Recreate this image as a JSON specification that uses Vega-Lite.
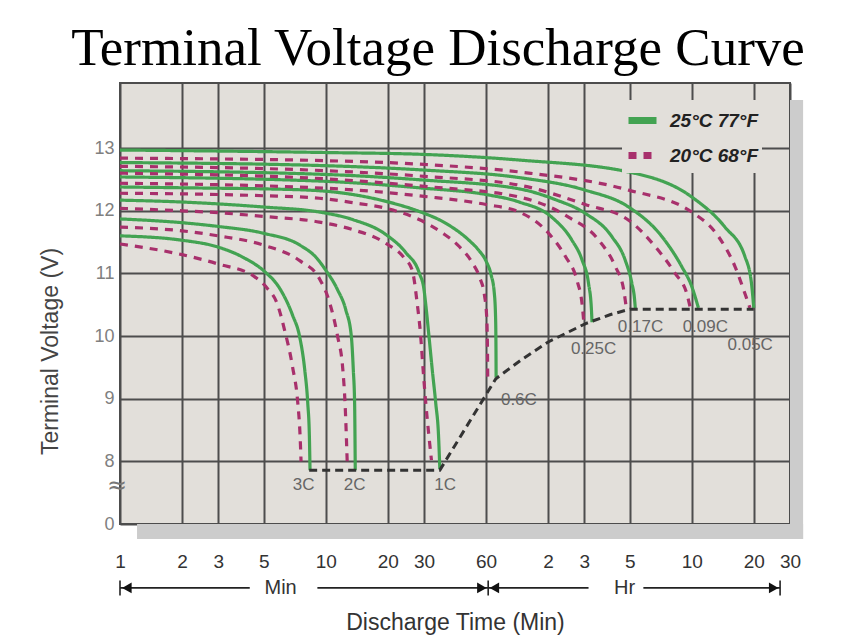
{
  "$schema": "https://vega.github.io/schema/vega-lite/v6.json",
  "width": 670,
  "height": 441,
  "autosize": "none",
  "padding": {"left": 120, "top": 83, "right": 74, "bottom": 117},
  "background": "white",
  "config": {
    "view": {"fill": "#e2dfda", "stroke": "#4d4d4d", "strokeWidth": 2},
    "font": "Liberation Sans"
  },
  "title": {
    "text": "Terminal Voltage Discharge Curve",
    "font": "Liberation Serif",
    "fontSize": 53,
    "fontWeight": "normal",
    "color": "#000000",
    "anchor": "middle",
    "dx": -17,
    "offset": 7
  },
  "datasets": {
    "shadow": [
      {"t": 1800, "t2": 2084, "v": 13.77, "v2": 6.76},
      {"t": 1.21, "t2": 2084, "v": 7, "v2": 6.76}
    ],
    "curves": [
      {"r": "3C", "temp": "25°C 77°F", "t": 1, "v": 11.6},
      {"r": "3C", "temp": "25°C 77°F", "t": 2, "v": 11.53},
      {"r": "3C", "temp": "25°C 77°F", "t": 3, "v": 11.42},
      {"r": "3C", "temp": "25°C 77°F", "t": 4, "v": 11.25},
      {"r": "3C", "temp": "25°C 77°F", "t": 5, "v": 11.04},
      {"r": "3C", "temp": "25°C 77°F", "t": 6, "v": 10.75},
      {"r": "3C", "temp": "25°C 77°F", "t": 6.9, "v": 10.33},
      {"r": "3C", "temp": "25°C 77°F", "t": 7.45, "v": 10.0},
      {"r": "3C", "temp": "25°C 77°F", "t": 7.9, "v": 9.46},
      {"r": "3C", "temp": "25°C 77°F", "t": 8.17, "v": 8.93},
      {"r": "3C", "temp": "25°C 77°F", "t": 8.32, "v": 8.4},
      {"r": "3C", "temp": "25°C 77°F", "t": 8.38, "v": 7.86},

      {"r": "2C", "temp": "25°C 77°F", "t": 1, "v": 11.87},
      {"r": "2C", "temp": "25°C 77°F", "t": 2, "v": 11.81},
      {"r": "2C", "temp": "25°C 77°F", "t": 3, "v": 11.75},
      {"r": "2C", "temp": "25°C 77°F", "t": 5, "v": 11.64},
      {"r": "2C", "temp": "25°C 77°F", "t": 7.5, "v": 11.45},
      {"r": "2C", "temp": "25°C 77°F", "t": 9, "v": 11.25},
      {"r": "2C", "temp": "25°C 77°F", "t": 10, "v": 11.05},
      {"r": "2C", "temp": "25°C 77°F", "t": 11.4, "v": 10.74},
      {"r": "2C", "temp": "25°C 77°F", "t": 12.5, "v": 10.42},
      {"r": "2C", "temp": "25°C 77°F", "t": 13.3, "v": 10.0},
      {"r": "2C", "temp": "25°C 77°F", "t": 13.6, "v": 9.46},
      {"r": "2C", "temp": "25°C 77°F", "t": 13.8, "v": 8.93},
      {"r": "2C", "temp": "25°C 77°F", "t": 13.9, "v": 7.86},

      {"r": "1C", "temp": "25°C 77°F", "t": 1, "v": 12.17},
      {"r": "1C", "temp": "25°C 77°F", "t": 2, "v": 12.14},
      {"r": "1C", "temp": "25°C 77°F", "t": 3, "v": 12.11},
      {"r": "1C", "temp": "25°C 77°F", "t": 5, "v": 12.06},
      {"r": "1C", "temp": "25°C 77°F", "t": 9.3, "v": 11.98},
      {"r": "1C", "temp": "25°C 77°F", "t": 13.5, "v": 11.86},
      {"r": "1C", "temp": "25°C 77°F", "t": 19.6, "v": 11.62},
      {"r": "1C", "temp": "25°C 77°F", "t": 24.5, "v": 11.33},
      {"r": "1C", "temp": "25°C 77°F", "t": 28.5, "v": 11.0},
      {"r": "1C", "temp": "25°C 77°F", "t": 30, "v": 10.74},
      {"r": "1C", "temp": "25°C 77°F", "t": 30.6, "v": 10.5},
      {"r": "1C", "temp": "25°C 77°F", "t": 31.7, "v": 10.0},
      {"r": "1C", "temp": "25°C 77°F", "t": 32.9, "v": 9.46},
      {"r": "1C", "temp": "25°C 77°F", "t": 34.2, "v": 8.93},
      {"r": "1C", "temp": "25°C 77°F", "t": 35.3, "v": 8.4},
      {"r": "1C", "temp": "25°C 77°F", "t": 35.8, "v": 7.88},

      {"r": "0.6C", "temp": "25°C 77°F", "t": 1, "v": 12.38},
      {"r": "0.6C", "temp": "25°C 77°F", "t": 3, "v": 12.36},
      {"r": "0.6C", "temp": "25°C 77°F", "t": 5, "v": 12.35},
      {"r": "0.6C", "temp": "25°C 77°F", "t": 9.3, "v": 12.32},
      {"r": "0.6C", "temp": "25°C 77°F", "t": 13.5, "v": 12.26},
      {"r": "0.6C", "temp": "25°C 77°F", "t": 19.6, "v": 12.15},
      {"r": "0.6C", "temp": "25°C 77°F", "t": 28.4, "v": 11.99},
      {"r": "0.6C", "temp": "25°C 77°F", "t": 38.3, "v": 11.8},
      {"r": "0.6C", "temp": "25°C 77°F", "t": 49.6, "v": 11.53},
      {"r": "0.6C", "temp": "25°C 77°F", "t": 55, "v": 11.38},
      {"r": "0.6C", "temp": "25°C 77°F", "t": 60, "v": 11.2},
      {"r": "0.6C", "temp": "25°C 77°F", "t": 63.5, "v": 10.98},
      {"r": "0.6C", "temp": "25°C 77°F", "t": 65.8, "v": 10.7},
      {"r": "0.6C", "temp": "25°C 77°F", "t": 66.8, "v": 10.3},
      {"r": "0.6C", "temp": "25°C 77°F", "t": 67.1, "v": 9.8},
      {"r": "0.6C", "temp": "25°C 77°F", "t": 67.2, "v": 9.34},

      {"r": "0.25C", "temp": "25°C 77°F", "t": 1, "v": 12.54},
      {"r": "0.25C", "temp": "25°C 77°F", "t": 10, "v": 12.47},
      {"r": "0.25C", "temp": "25°C 77°F", "t": 30, "v": 12.36},
      {"r": "0.25C", "temp": "25°C 77°F", "t": 60, "v": 12.26},
      {"r": "0.25C", "temp": "25°C 77°F", "t": 87, "v": 12.14},
      {"r": "0.25C", "temp": "25°C 77°F", "t": 125, "v": 11.9},
      {"r": "0.25C", "temp": "25°C 77°F", "t": 157, "v": 11.53},
      {"r": "0.25C", "temp": "25°C 77°F", "t": 176, "v": 11.21},
      {"r": "0.25C", "temp": "25°C 77°F", "t": 189, "v": 10.84},
      {"r": "0.25C", "temp": "25°C 77°F", "t": 195, "v": 10.45},
      {"r": "0.25C", "temp": "25°C 77°F", "t": 196.5, "v": 10.22},

      {"r": "0.17C", "temp": "25°C 77°F", "t": 1, "v": 12.64},
      {"r": "0.17C", "temp": "25°C 77°F", "t": 10, "v": 12.58},
      {"r": "0.17C", "temp": "25°C 77°F", "t": 30, "v": 12.49},
      {"r": "0.17C", "temp": "25°C 77°F", "t": 87, "v": 12.35},
      {"r": "0.17C", "temp": "25°C 77°F", "t": 130, "v": 12.18},
      {"r": "0.17C", "temp": "25°C 77°F", "t": 182, "v": 11.96},
      {"r": "0.17C", "temp": "25°C 77°F", "t": 245, "v": 11.59},
      {"r": "0.17C", "temp": "25°C 77°F", "t": 285, "v": 11.21},
      {"r": "0.17C", "temp": "25°C 77°F", "t": 307, "v": 10.84},
      {"r": "0.17C", "temp": "25°C 77°F", "t": 316, "v": 10.6},
      {"r": "0.17C", "temp": "25°C 77°F", "t": 319, "v": 10.44},

      {"r": "0.09C", "temp": "25°C 77°F", "t": 1, "v": 12.77},
      {"r": "0.09C", "temp": "25°C 77°F", "t": 10, "v": 12.72},
      {"r": "0.09C", "temp": "25°C 77°F", "t": 30, "v": 12.65},
      {"r": "0.09C", "temp": "25°C 77°F", "t": 87, "v": 12.53},
      {"r": "0.09C", "temp": "25°C 77°F", "t": 182, "v": 12.33},
      {"r": "0.09C", "temp": "25°C 77°F", "t": 296, "v": 12.06},
      {"r": "0.09C", "temp": "25°C 77°F", "t": 429, "v": 11.59},
      {"r": "0.09C", "temp": "25°C 77°F", "t": 536, "v": 11.11},
      {"r": "0.09C", "temp": "25°C 77°F", "t": 600, "v": 10.79},
      {"r": "0.09C", "temp": "25°C 77°F", "t": 646, "v": 10.45},

      {"r": "0.05C", "temp": "25°C 77°F", "t": 1, "v": 12.97},
      {"r": "0.05C", "temp": "25°C 77°F", "t": 10, "v": 12.93},
      {"r": "0.05C", "temp": "25°C 77°F", "t": 30, "v": 12.9},
      {"r": "0.05C", "temp": "25°C 77°F", "t": 87, "v": 12.81},
      {"r": "0.05C", "temp": "25°C 77°F", "t": 296, "v": 12.62},
      {"r": "0.05C", "temp": "25°C 77°F", "t": 600, "v": 12.22},
      {"r": "0.05C", "temp": "25°C 77°F", "t": 869, "v": 11.74},
      {"r": "0.05C", "temp": "25°C 77°F", "t": 1087, "v": 11.27},
      {"r": "0.05C", "temp": "25°C 77°F", "t": 1170, "v": 10.84},
      {"r": "0.05C", "temp": "25°C 77°F", "t": 1200, "v": 10.45},

      {"r": "3C", "temp": "20°C 68°F", "t": 1, "v": 11.47},
      {"r": "3C", "temp": "20°C 68°F", "t": 2, "v": 11.3},
      {"r": "3C", "temp": "20°C 68°F", "t": 3, "v": 11.15},
      {"r": "3C", "temp": "20°C 68°F", "t": 4.5, "v": 10.95},
      {"r": "3C", "temp": "20°C 68°F", "t": 5.2, "v": 10.76},
      {"r": "3C", "temp": "20°C 68°F", "t": 5.8, "v": 10.52},
      {"r": "3C", "temp": "20°C 68°F", "t": 6.3, "v": 10.1},
      {"r": "3C", "temp": "20°C 68°F", "t": 6.9, "v": 9.5},
      {"r": "3C", "temp": "20°C 68°F", "t": 7.3, "v": 8.95},
      {"r": "3C", "temp": "20°C 68°F", "t": 7.5, "v": 8.4},
      {"r": "3C", "temp": "20°C 68°F", "t": 7.58, "v": 8.0},

      {"r": "2C", "temp": "20°C 68°F", "t": 1, "v": 11.74},
      {"r": "2C", "temp": "20°C 68°F", "t": 2, "v": 11.68},
      {"r": "2C", "temp": "20°C 68°F", "t": 3, "v": 11.6},
      {"r": "2C", "temp": "20°C 68°F", "t": 5, "v": 11.45},
      {"r": "2C", "temp": "20°C 68°F", "t": 7.5, "v": 11.2},
      {"r": "2C", "temp": "20°C 68°F", "t": 9.3, "v": 10.92},
      {"r": "2C", "temp": "20°C 68°F", "t": 10.4, "v": 10.55},
      {"r": "2C", "temp": "20°C 68°F", "t": 11.4, "v": 10.0},
      {"r": "2C", "temp": "20°C 68°F", "t": 12.1, "v": 9.46},
      {"r": "2C", "temp": "20°C 68°F", "t": 12.4, "v": 8.93},
      {"r": "2C", "temp": "20°C 68°F", "t": 12.7, "v": 8.0},

      {"r": "1C", "temp": "20°C 68°F", "t": 1, "v": 12.04},
      {"r": "1C", "temp": "20°C 68°F", "t": 2, "v": 12.0},
      {"r": "1C", "temp": "20°C 68°F", "t": 3, "v": 11.97},
      {"r": "1C", "temp": "20°C 68°F", "t": 5, "v": 11.91},
      {"r": "1C", "temp": "20°C 68°F", "t": 9.3, "v": 11.82},
      {"r": "1C", "temp": "20°C 68°F", "t": 13.5, "v": 11.7},
      {"r": "1C", "temp": "20°C 68°F", "t": 19.6, "v": 11.48},
      {"r": "1C", "temp": "20°C 68°F", "t": 24, "v": 11.25},
      {"r": "1C", "temp": "20°C 68°F", "t": 26.3, "v": 11.05},
      {"r": "1C", "temp": "20°C 68°F", "t": 27.8, "v": 10.52},
      {"r": "1C", "temp": "20°C 68°F", "t": 28.9, "v": 10.0},
      {"r": "1C", "temp": "20°C 68°F", "t": 29.7, "v": 9.46},
      {"r": "1C", "temp": "20°C 68°F", "t": 30.6, "v": 8.93},
      {"r": "1C", "temp": "20°C 68°F", "t": 31.7, "v": 8.4},
      {"r": "1C", "temp": "20°C 68°F", "t": 32.6, "v": 8.02},

      {"r": "0.6C", "temp": "20°C 68°F", "t": 1, "v": 12.28},
      {"r": "0.6C", "temp": "20°C 68°F", "t": 3, "v": 12.26},
      {"r": "0.6C", "temp": "20°C 68°F", "t": 5, "v": 12.24},
      {"r": "0.6C", "temp": "20°C 68°F", "t": 9.3, "v": 12.2},
      {"r": "0.6C", "temp": "20°C 68°F", "t": 13.5, "v": 12.13},
      {"r": "0.6C", "temp": "20°C 68°F", "t": 19.6, "v": 12.04},
      {"r": "0.6C", "temp": "20°C 68°F", "t": 28.4, "v": 11.86},
      {"r": "0.6C", "temp": "20°C 68°F", "t": 36.7, "v": 11.65},
      {"r": "0.6C", "temp": "20°C 68°F", "t": 44.5, "v": 11.43},
      {"r": "0.6C", "temp": "20°C 68°F", "t": 51.5, "v": 11.17},
      {"r": "0.6C", "temp": "20°C 68°F", "t": 56, "v": 10.93},
      {"r": "0.6C", "temp": "20°C 68°F", "t": 59, "v": 10.65},
      {"r": "0.6C", "temp": "20°C 68°F", "t": 60.5, "v": 10.3},
      {"r": "0.6C", "temp": "20°C 68°F", "t": 61, "v": 9.8},
      {"r": "0.6C", "temp": "20°C 68°F", "t": 61.2, "v": 9.25},

      {"r": "0.25C", "temp": "20°C 68°F", "t": 1, "v": 12.44},
      {"r": "0.25C", "temp": "20°C 68°F", "t": 10, "v": 12.36},
      {"r": "0.25C", "temp": "20°C 68°F", "t": 30, "v": 12.23},
      {"r": "0.25C", "temp": "20°C 68°F", "t": 60, "v": 12.1},
      {"r": "0.25C", "temp": "20°C 68°F", "t": 87, "v": 11.98},
      {"r": "0.25C", "temp": "20°C 68°F", "t": 121, "v": 11.64},
      {"r": "0.25C", "temp": "20°C 68°F", "t": 146, "v": 11.27},
      {"r": "0.25C", "temp": "20°C 68°F", "t": 166, "v": 10.89},
      {"r": "0.25C", "temp": "20°C 68°F", "t": 176, "v": 10.5},
      {"r": "0.25C", "temp": "20°C 68°F", "t": 179.5, "v": 10.2},

      {"r": "0.17C", "temp": "20°C 68°F", "t": 1, "v": 12.6},
      {"r": "0.17C", "temp": "20°C 68°F", "t": 10, "v": 12.51},
      {"r": "0.17C", "temp": "20°C 68°F", "t": 30, "v": 12.39},
      {"r": "0.17C", "temp": "20°C 68°F", "t": 87, "v": 12.22},
      {"r": "0.17C", "temp": "20°C 68°F", "t": 151, "v": 11.9},
      {"r": "0.17C", "temp": "20°C 68°F", "t": 212, "v": 11.53},
      {"r": "0.17C", "temp": "20°C 68°F", "t": 255, "v": 11.11},
      {"r": "0.17C", "temp": "20°C 68°F", "t": 280, "v": 10.74},
      {"r": "0.17C", "temp": "20°C 68°F", "t": 289, "v": 10.42},

      {"r": "0.09C", "temp": "20°C 68°F", "t": 1, "v": 12.71},
      {"r": "0.09C", "temp": "20°C 68°F", "t": 10, "v": 12.64},
      {"r": "0.09C", "temp": "20°C 68°F", "t": 30, "v": 12.55},
      {"r": "0.09C", "temp": "20°C 68°F", "t": 87, "v": 12.41},
      {"r": "0.09C", "temp": "20°C 68°F", "t": 182, "v": 12.1},
      {"r": "0.09C", "temp": "20°C 68°F", "t": 296, "v": 11.85},
      {"r": "0.09C", "temp": "20°C 68°F", "t": 398, "v": 11.43},
      {"r": "0.09C", "temp": "20°C 68°F", "t": 498, "v": 11.0},
      {"r": "0.09C", "temp": "20°C 68°F", "t": 567, "v": 10.68},
      {"r": "0.09C", "temp": "20°C 68°F", "t": 590, "v": 10.45},

      {"r": "0.05C", "temp": "20°C 68°F", "t": 1, "v": 12.84},
      {"r": "0.05C", "temp": "20°C 68°F", "t": 10, "v": 12.8},
      {"r": "0.05C", "temp": "20°C 68°F", "t": 30, "v": 12.74},
      {"r": "0.05C", "temp": "20°C 68°F", "t": 87, "v": 12.62},
      {"r": "0.05C", "temp": "20°C 68°F", "t": 296, "v": 12.33},
      {"r": "0.05C", "temp": "20°C 68°F", "t": 600, "v": 11.98},
      {"r": "0.05C", "temp": "20°C 68°F", "t": 808, "v": 11.59},
      {"r": "0.05C", "temp": "20°C 68°F", "t": 973, "v": 11.11},
      {"r": "0.05C", "temp": "20°C 68°F", "t": 1087, "v": 10.68},
      {"r": "0.05C", "temp": "20°C 68°F", "t": 1150, "v": 10.45}
    ],
    "endline": [
      {"t": 8.3, "v": 7.86},
      {"t": 35.8, "v": 7.86},
      {"t": 67, "v": 9.32},
      {"t": 90, "v": 9.63},
      {"t": 121, "v": 9.91},
      {"t": 150, "v": 10.06},
      {"t": 183, "v": 10.2},
      {"t": 240, "v": 10.34},
      {"t": 300, "v": 10.43},
      {"t": 1200, "v": 10.43}
    ],
    "labels": [
      {"label": "3C", "t": 7.8, "v": 7.62},
      {"label": "2C", "t": 13.8, "v": 7.62},
      {"label": "1C", "t": 38, "v": 7.62},
      {"label": "0.6C", "t": 86.7, "v": 8.98},
      {"label": "0.25C", "t": 200, "v": 9.79},
      {"label": "0.17C", "t": 338, "v": 10.15},
      {"label": "0.09C", "t": 698, "v": 10.15},
      {"label": "0.05C", "t": 1153, "v": 9.86}
    ],
    "breakmark": [{"label": "≈", "t": 1, "v": 7.6}],
    "arrowlines": [
      {"t": 1, "t2": 4.27, "v": 5.98, "v2": 5.98},
      {"t": 9.1, "t2": 60, "v": 5.98, "v2": 5.98},
      {"t": 60, "t2": 189, "v": 5.98, "v2": 5.98},
      {"t": 349, "t2": 1611, "v": 5.98, "v2": 5.98},
      {"t": 1, "t2": 1, "v": 5.86, "v2": 6.1},
      {"t": 61.5, "t2": 61.5, "v": 5.86, "v2": 6.1},
      {"t": 1611, "t2": 1611, "v": 5.86, "v2": 6.1}
    ],
    "arrowheads": [
      {"t": 1.08, "v": 5.98, "dir": "triangle-left"},
      {"t": 57.3, "v": 5.98, "dir": "triangle-right"},
      {"t": 65.9, "v": 5.98, "dir": "triangle-left"},
      {"t": 1500, "v": 5.98, "dir": "triangle-right"}
    ],
    "arrowtext": [
      {"label": "Min", "t": 6.03, "v": 5.98},
      {"label": "Hr", "t": 283, "v": 5.98}
    ]
  },
  "layer": [
    {
      "data": {"name": "shadow"},
      "mark": {"type": "rect", "color": "#cccccc", "clip": false},
      "encoding": {
        "x": {
          "field": "t",
          "type": "quantitative",
          "scale": {"type": "log", "domain": [1, 1800], "nice": false},
          "axis": {
            "values": [1, 2, 3, 5, 10, 20, 30, 60, 120, 180, 300, 600, 1200, 1800],
            "labelExpr": "datum.value > 60 ? format(datum.value / 60, 'd') : format(datum.value, 'd')",
            "grid": true,
            "gridColor": "#4d4d4d",
            "gridWidth": 2,
            "domain": false,
            "ticks": false,
            "labelFlush": false,
            "labelOverlap": false,
            "labelPadding": 28,
            "labelFontSize": 19,
            "labelColor": "#333333",
            "labelFont": "Liberation Sans",
            "title": "Discharge Time (Min)",
            "titleFont": "Liberation Sans",
            "titleFontSize": 23,
            "titleFontWeight": "normal",
            "titleColor": "#333333",
            "titlePadding": 40
          }
        },
        "x2": {"field": "t2"},
        "y": {
          "field": "v",
          "type": "quantitative",
          "scale": {"domain": [7, 14.04], "nice": false, "zero": false},
          "axis": {
            "values": [7, 8, 9, 10, 11, 12, 13],
            "labelExpr": "datum.value == 7 ? '0' : format(datum.value, 'd')",
            "grid": true,
            "gridColor": "#4d4d4d",
            "gridWidth": 2,
            "domain": false,
            "ticks": false,
            "labelPadding": 6,
            "labelFontSize": 18,
            "labelColor": "#808080",
            "labelFont": "Liberation Sans",
            "title": "Terminal Voltage (V)",
            "titleFont": "Liberation Sans",
            "titleFontSize": 23,
            "titleFontWeight": "normal",
            "titleColor": "#444444",
            "titleAngle": 270,
            "titleX": -70,
            "titleY": 268,
            "titleAlign": "center",
            "titleBaseline": "middle"
          }
        },
        "y2": {"field": "v2"}
      }
    },
    {
      "data": {"name": "curves"},
      "mark": {"type": "line", "interpolate": "monotone", "strokeWidth": 3.2, "strokeCap": "butt"},
      "encoding": {
        "x": {"field": "t", "type": "quantitative"},
        "y": {"field": "v", "type": "quantitative"},
        "detail": {"field": "r"},
        "color": {
          "field": "temp",
          "type": "nominal",
          "scale": {"domain": ["25°C 77°F", "20°C 68°F"], "range": ["#43a352", "#a8306c"]},
          "legend": {
            "orient": "none",
            "legendX": 502,
            "legendY": 17,
            "title": null,
            "fillColor": "#e2dfda",
            "padding": 3,
            "symbolType": "stroke",
            "symbolSize": 784,
            "symbolStrokeWidth": 7,
            "rowPadding": 3,
            "labelFont": "Liberation Sans",
            "labelFontSize": 19,
            "labelFontStyle": "italic",
            "labelFontWeight": "bold",
            "labelColor": "#222222",
            "labelOffset": 10
          }
        },
        "strokeDash": {
          "field": "temp",
          "type": "nominal",
          "scale": {"domain": ["25°C 77°F", "20°C 68°F"], "range": [[1, 0], [8, 7]]},
          "legend": {
            "orient": "none",
            "legendX": 502,
            "legendY": 17,
            "title": null,
            "fillColor": "#e2dfda",
            "padding": 3,
            "symbolType": "stroke",
            "symbolSize": 784,
            "symbolStrokeWidth": 7,
            "rowPadding": 3,
            "labelFont": "Liberation Sans",
            "labelFontSize": 19,
            "labelFontStyle": "italic",
            "labelFontWeight": "bold",
            "labelColor": "#222222",
            "labelOffset": 10
          }
        }
      }
    },
    {
      "data": {"name": "endline"},
      "mark": {"type": "line", "color": "#333333", "strokeWidth": 3, "strokeDash": [8, 5]},
      "encoding": {
        "x": {"field": "t", "type": "quantitative"},
        "y": {"field": "v", "type": "quantitative"}
      }
    },
    {
      "data": {"name": "labels"},
      "mark": {"type": "text", "fontSize": 17, "color": "#666666", "font": "Liberation Sans", "align": "center", "baseline": "middle"},
      "encoding": {
        "x": {"field": "t", "type": "quantitative"},
        "y": {"field": "v", "type": "quantitative"},
        "text": {"field": "label"}
      }
    },
    {
      "data": {"name": "breakmark"},
      "mark": {"type": "text", "fontSize": 24, "color": "#777777", "font": "DejaVu Sans", "align": "center", "baseline": "middle", "dx": -3, "clip": false},
      "encoding": {
        "x": {"field": "t", "type": "quantitative"},
        "y": {"field": "v", "type": "quantitative"},
        "text": {"field": "label"}
      }
    },
    {
      "data": {"name": "arrowlines"},
      "mark": {"type": "rule", "color": "#222222", "strokeWidth": 1.6, "clip": false},
      "encoding": {
        "x": {"field": "t", "type": "quantitative"},
        "x2": {"field": "t2"},
        "y": {"field": "v", "type": "quantitative"},
        "y2": {"field": "v2"}
      }
    },
    {
      "data": {"name": "arrowheads"},
      "mark": {"type": "point", "filled": true, "color": "#111111", "size": 120, "opacity": 1, "clip": false},
      "encoding": {
        "x": {"field": "t", "type": "quantitative"},
        "y": {"field": "v", "type": "quantitative"},
        "shape": {"field": "dir", "type": "nominal", "scale": null, "legend": null}
      }
    },
    {
      "data": {"name": "arrowtext"},
      "mark": {"type": "text", "fontSize": 20, "color": "#333333", "font": "Liberation Sans", "align": "center", "baseline": "middle", "clip": false},
      "encoding": {
        "x": {"field": "t", "type": "quantitative"},
        "y": {"field": "v", "type": "quantitative"},
        "text": {"field": "label"}
      }
    }
  ]
}
